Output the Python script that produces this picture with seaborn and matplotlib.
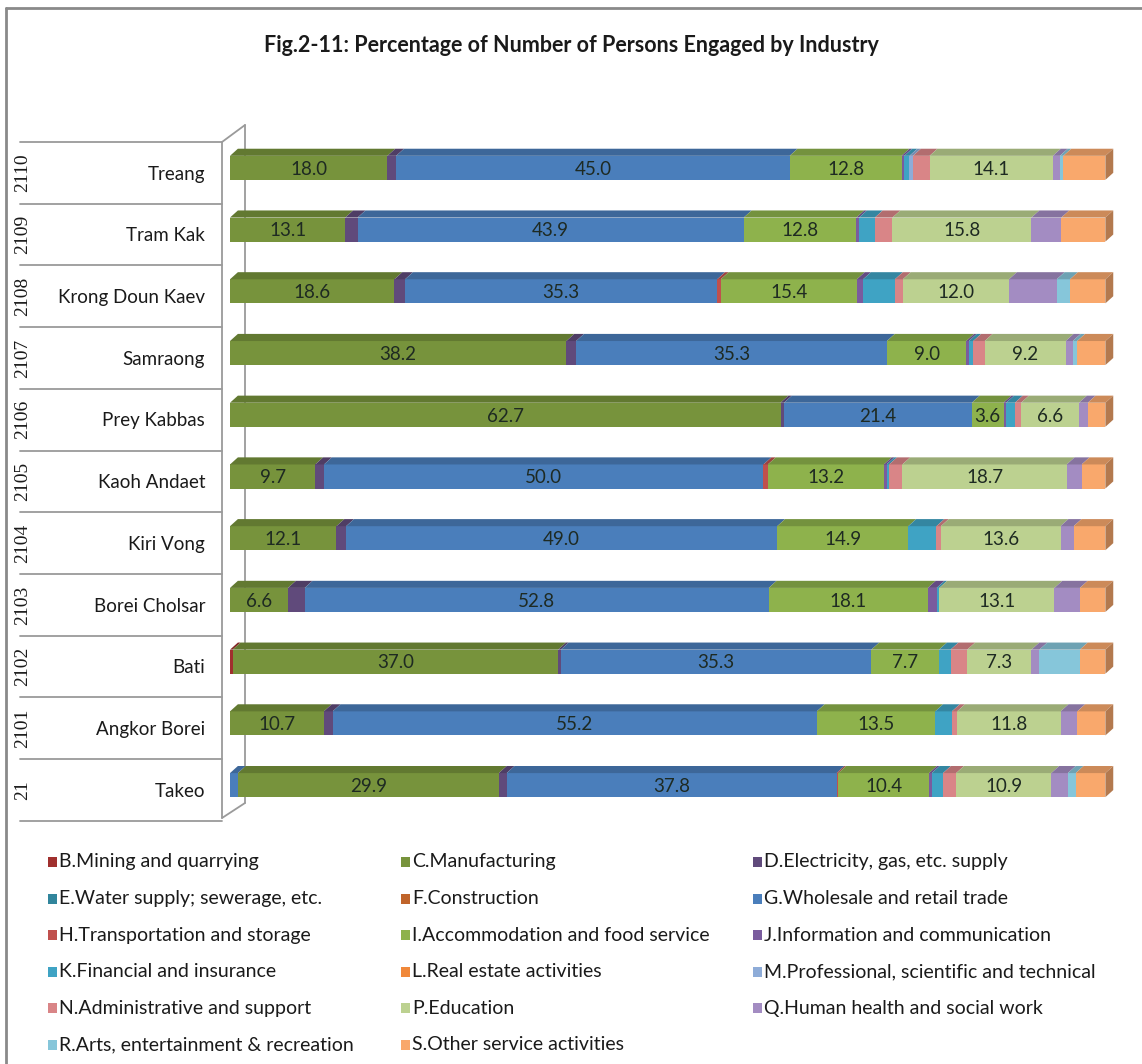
import pandas as pd
import matplotlib
matplotlib.use("Agg")
import matplotlib.pyplot as plt
import seaborn as sns
from matplotlib.patches import Polygon, Rectangle
from matplotlib.lines import Line2D
from matplotlib.transforms import blended_transform_factory
from matplotlib import colors as mcolors

# rows, top to bottom
districts = ["Treang", "Tram Kak", "Krong Doun Kaev", "Samraong", "Prey Kabbas",
             "Kaoh Andaet", "Kiri Vong", "Borei Cholsar", "Bati", "Angkor Borei", "Takeo"]
codes = ["2110", "2109", "2108", "2107", "2106", "2105", "2104", "2103", "2102", "2101", "21"]

# percentage per industry
ind_A = [0, 0, 0, 0, 0, 0, 0, 0, 0, 0, 0.9]   # unlabelled blue piece (not in legend)
ind_B = [0, 0, 0, 0, 0, 0, 0, 0, 0.3, 0, 0]
ind_C = [18.0, 13.1, 18.6, 38.2, 62.7, 9.7, 12.1, 6.6, 37.0, 10.7, 29.9]
ind_D = [1.0, 1.4, 1.2, 1.1, 0.4, 1.0, 1.1, 1.9, 0.3, 1.0, 0.9]
ind_E = [0, 0, 0, 0, 0, 0, 0, 0, 0, 0, 0]
ind_F = [0, 0, 0, 0, 0, 0, 0, 0, 0, 0, 0]
ind_G = [45.0, 43.9, 35.3, 35.3, 21.4, 50.0, 49.0, 52.8, 35.3, 55.2, 37.8]
ind_H = [0, 0, 0.4, 0, 0, 0.5, 0, 0, 0, 0, 0.2]
ind_I = [12.8, 12.8, 15.4, 9.0, 3.6, 13.2, 14.9, 18.1, 7.7, 13.5, 10.4]
ind_J = [0.3, 0.3, 0.7, 0.3, 0.3, 0.3, 0, 1.0, 0, 0, 0.3]
ind_K = [0.6, 1.8, 3.6, 0.5, 1.0, 0.3, 3.2, 0.3, 1.3, 1.9, 1.3]
ind_L = [0, 0, 0, 0, 0, 0, 0, 0, 0, 0, 0]
ind_M = [0.4, 0, 0, 0, 0, 0, 0, 0, 0, 0, 0]
ind_N = [1.9, 2.0, 0.9, 1.3, 0.7, 1.5, 0.5, 0, 1.9, 0.6, 1.5]
ind_P = [14.1, 15.8, 12.0, 9.2, 6.6, 18.7, 13.6, 13.1, 7.3, 11.8, 10.9]
ind_Q = [0.8, 3.4, 5.4, 0.8, 1.0, 1.7, 1.5, 2.9, 0.9, 1.9, 1.9]
ind_R = [0.4, 0, 1.5, 0.5, 0, 0, 0, 0, 4.6, 0, 0.9]
ind_S = [4.8, 5.0, 4.0, 3.2, 2.0, 2.7, 3.6, 2.9, 2.9, 3.2, 3.4]

legend_names = {
    "B": "B.Mining and quarrying", "C": "C.Manufacturing",
    "D": "D.Electricity, gas, etc. supply", "E": "E.Water supply; sewerage, etc.",
    "F": "F.Construction", "G": "G.Wholesale and retail trade",
    "H": "H.Transportation and storage", "I": "I.Accommodation and food service",
    "J": "J.Information and communication", "K": "K.Financial and insurance",
    "L": "L.Real estate activities", "M": "M.Professional, scientific and technical",
    "N": "N.Administrative and support", "P": "P.Education",
    "Q": "Q.Human health and social work", "R": "R.Arts, entertainment & recreation",
    "S": "S.Other service activities",
}
palette = {
    "A": "#4A7EBB", "B": "#A0302E", "C": "#77933C", "D": "#604A7B", "E": "#31859C",
    "F": "#C0642A", "G": "#4A7EBB", "H": "#C0504D", "I": "#8EB24C", "J": "#7A5C9E",
    "K": "#3FA3C4", "L": "#F0883A", "M": "#8EACD8", "N": "#D98587", "P": "#BCD190",
    "Q": "#A38CC2", "R": "#86C6DA", "S": "#F9A86C",
}
labelled = ["C", "G", "I", "P"]

df = pd.DataFrame({
    "A": ind_A, "B": ind_B, "C": ind_C, "D": ind_D, "E": ind_E, "F": ind_F,
    "G": ind_G, "H": ind_H, "I": ind_I, "J": ind_J, "K": ind_K, "L": ind_L,
    "M": ind_M, "N": ind_N, "P": ind_P, "Q": ind_Q, "R": ind_R, "S": ind_S,
}, index=districts)
cols = list(df.columns)

# 100% stacked, like the original
share = df.div(df.sum(axis=1), axis=0) * 100
cum = share.cumsum(axis=1)

sns.set_theme(style="white")
plt.rcParams["font.family"] = ["Lato", "DejaVu Sans"]

W, H = 1142, 1064
fig = plt.figure(figsize=(W / 100, H / 100), dpi=100)
ax = fig.add_axes([230 / W, 1 - 816 / H, 885 / W, 679 / H])


def fx(px):
    return px / W


def fy(py):
    return 1 - py / H


def shade(c, f):
    r, g, b = mcolors.to_rgb(c)
    return (r * f, g * f, b * f)


# wall of the 3D chart (behind the bars)
wall = [((222, 142), (222, 818)), ((222, 142), (245, 125)),
        ((245, 125), (245, 803)), ((245, 803), (222, 818))]
for (x0, y0), (x1, y1) in wall:
    ax.add_line(Line2D([fx(x0), fx(x1)], [fy(y0), fy(y1)], transform=fig.transFigure,
                       color="#9a9a9a", lw=1.3, zorder=0.2, clip_on=False))

bar_h = 0.39
for col in reversed(cols):
    sns.barplot(x=cum[col].values, y=districts, color=palette[col], orient="h",
                width=bar_h, saturation=1, errorbar=None, linewidth=0, ax=ax)

# top faces and end caps
dx, dy = 0.9, 0.115
for i, d in enumerate(districts):
    top = i - bar_h / 2
    left = 0.0
    for col in cols:
        right = cum.loc[d, col]
        if right - left > 1e-9:
            ax.add_patch(Polygon([(left, top), (right, top), (right + dx, top - dy),
                                  (left + dx, top - dy)], closed=True,
                                 facecolor=shade(palette[col], 0.82), edgecolor="none", zorder=3))
        left = right
    ax.add_patch(Polygon([(100, top), (100, top + bar_h), (100 + dx, top + bar_h - dy),
                          (100 + dx, top - dy)], closed=True,
                         facecolor=shade(palette["S"], 0.72), edgecolor="none", zorder=3))
    for col in labelled:
        v = df.loc[d, col]
        xc = cum.loc[d, col] - share.loc[d, col] / 2
        ax.text(xc, i + 0.02, f"{v:.1f}", ha="center", va="center", fontsize=13.5,
                color="#1e2a22", zorder=4)

ax.set_xlim(0, 101.1)
ax.set_ylim(10.5, -0.5)
ax.axis("off")

# left table: codes and names
tr = blended_transform_factory(fig.transFigure, ax.transData)
for k in range(len(districts) + 1):
    yk = k - 0.5 + 0.08
    ax.add_line(Line2D([fx(20), fx(222)], [yk, yk], transform=tr, color="#9a9a9a",
                       lw=1.3, clip_on=False))
for i, (d, c) in enumerate(zip(districts, codes)):
    ax.text(fx(205), i + 0.1, d, transform=tr, ha="right", va="center", fontsize=13.5,
            color="#1a1a1a", clip_on=False)
    ax.text(fx(23), i + 0.08, c, transform=tr, ha="center", va="center", rotation=90,
            fontsize=14, family=["Liberation Serif", "DejaVu Serif"], color="#1a1a1a",
            clip_on=False)

# outer frame
fig.add_artist(Line2D([fx(6), 1.0], [fy(8), fy(8)], transform=fig.transFigure,
                      color="#8a8a8a", lw=2))
fig.add_artist(Line2D([fx(6), fx(6)], [fy(8), 0.0], transform=fig.transFigure,
                      color="#8a8a8a", lw=2))

fig.text(0.5, fy(45), "Fig.2-11: Percentage of Number of Persons Engaged by Industry",
         ha="center", va="center", fontsize=15.5, fontweight="bold", color="#1a1a1a")

# legend, three columns filled row by row
legend_keys = list(legend_names.keys())
col_x = [52, 405, 757]
row_y0, row_dy = 862, 36.6
for n, key in enumerate(legend_keys):
    r, c = divmod(n, 3)
    xm, ym = col_x[c], row_y0 + r * row_dy
    fig.add_artist(Rectangle((fx(xm - 4.5), fy(ym + 5)), 9 / W, 10 / H,
                             transform=fig.transFigure, facecolor=palette[key],
                             edgecolor="none"))
    fig.text(fx(xm + 7), fy(ym), legend_names[key], ha="left", va="center",
             fontsize=14, color="#1a1a1a")

fig.savefig("out.png", dpi=100)
